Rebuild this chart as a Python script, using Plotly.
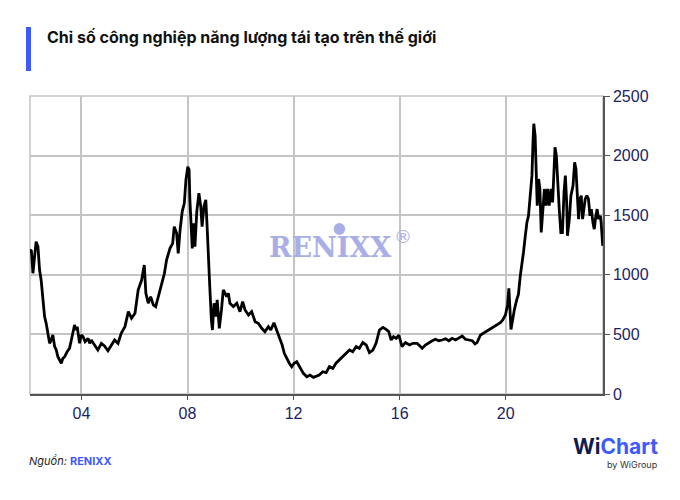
import plotly.graph_objects as go

# ---- data ----
years = [
    2002.06, 2002.11, 2002.17, 2002.23, 2002.29, 2002.36, 2002.42, 2002.48, 2002.55, 2002.61,
    2002.67, 2002.74, 2002.80, 2002.86, 2002.92, 2002.99, 2003.05, 2003.11, 2003.18, 2003.24,
    2003.30, 2003.37, 2003.46, 2003.55, 2003.62, 2003.68, 2003.74, 2003.79, 2003.84, 2003.93,
    2003.99, 2004.06, 2004.14, 2004.25, 2004.31, 2004.37, 2004.50, 2004.62, 2004.75, 2004.87,
    2005.00, 2005.12, 2005.25, 2005.38, 2005.50, 2005.64, 2005.77, 2005.89, 2006.02, 2006.14,
    2006.27, 2006.37, 2006.43, 2006.52, 2006.61, 2006.71, 2006.80, 2006.90, 2007.03, 2007.13,
    2007.21, 2007.34, 2007.44, 2007.50, 2007.59, 2007.65, 2007.72, 2007.80, 2007.88, 2007.94,
    2008.01, 2008.06, 2008.09, 2008.13, 2008.18, 2008.23, 2008.28, 2008.35, 2008.43, 2008.50,
    2008.55, 2008.62, 2008.69, 2008.74, 2008.79, 2008.84, 2008.90, 2008.94, 2009.00, 2009.06,
    2009.12, 2009.20, 2009.28, 2009.35, 2009.48, 2009.54, 2009.60, 2009.73, 2009.86, 2009.98,
    2010.08, 2010.17, 2010.30, 2010.42, 2010.55, 2010.67, 2010.80, 2010.92, 2011.05, 2011.14,
    2011.26, 2011.37, 2011.47, 2011.57, 2011.65, 2011.74, 2011.84, 2011.93, 2012.02, 2012.12,
    2012.25, 2012.37, 2012.50, 2012.62, 2012.75, 2012.88, 2012.97, 2013.10, 2013.23, 2013.35,
    2013.48, 2013.60, 2013.73, 2013.86, 2013.98, 2014.11, 2014.23, 2014.36, 2014.48, 2014.61,
    2014.74, 2014.86, 2014.99, 2015.11, 2015.24, 2015.37, 2015.49, 2015.59, 2015.68, 2015.77,
    2015.87, 2015.97, 2016.09, 2016.22, 2016.37, 2016.50, 2016.66, 2016.85, 2016.97, 2017.10,
    2017.23, 2017.35, 2017.48, 2017.60, 2017.73, 2017.86, 2017.98, 2018.11, 2018.23, 2018.36,
    2018.48, 2018.61, 2018.74, 2018.84, 2018.92, 2019.05, 2019.18, 2019.30, 2019.43, 2019.55,
    2019.68, 2019.80, 2019.89, 2019.99, 2020.07, 2020.12, 2020.20, 2020.26, 2020.33, 2020.42,
    2020.48, 2020.55, 2020.61, 2020.67, 2020.74, 2020.80, 2020.86, 2020.92, 2020.99, 2021.03,
    2021.06, 2021.11, 2021.15, 2021.19, 2021.24, 2021.29, 2021.34, 2021.39, 2021.46, 2021.52,
    2021.58, 2021.64, 2021.71, 2021.77, 2021.82, 2021.86, 2021.91, 2021.96, 2022.02, 2022.08,
    2022.14, 2022.20, 2022.25, 2022.30, 2022.33, 2022.40, 2022.46, 2022.54, 2022.60, 2022.65,
    2022.70, 2022.75, 2022.80, 2022.85, 2022.90, 2022.95, 2023.00, 2023.06, 2023.12, 2023.18,
    2023.23, 2023.29, 2023.34, 2023.40, 2023.45, 2023.50, 2023.57, 2023.60, 2023.64, 2023.66,
]
renixx_index = [
    1200, 1208, 1013, 1152, 1278, 1236, 1040, 956, 789, 649,
    593, 509, 425, 453, 495, 397, 369, 313, 285, 258,
    299, 313, 355, 383, 453, 509, 579, 537, 565, 425,
    495, 481, 439, 467, 425, 453, 411, 369, 425, 403,
    363, 403, 453, 425, 509, 565, 691, 635, 677, 873,
    956, 1082, 845, 761, 817, 747, 733, 817, 929, 1013,
    1124, 1222, 1264, 1404, 1348, 1180, 1376, 1530, 1600, 1795,
    1907, 1880, 1628, 1460, 1222, 1432, 1236, 1530, 1684, 1572,
    1404, 1572, 1628, 1404, 1096, 900, 621, 537, 761, 649,
    789, 551, 705, 873, 817, 845, 761, 733, 761, 691,
    775, 705, 663, 691, 607, 593, 551, 523, 565, 537,
    598, 537, 467, 411, 341, 299, 258, 229, 258, 271,
    215, 173, 145, 159, 140, 152, 159, 187, 179, 229,
    215, 258, 285, 313, 341, 369, 355, 397, 383, 431,
    411, 347, 369, 425, 537, 559, 542, 523, 453, 481,
    467, 495, 397, 431, 411, 425, 425, 383, 411, 431,
    447, 459, 447, 453, 464, 447, 467, 453, 467, 487,
    459, 453, 447, 420, 431, 495, 514, 531, 548, 565,
    587, 598, 621, 663, 747, 887, 542, 626, 710, 794,
    836, 991, 1075, 1187, 1327, 1439, 1495, 1636, 1832, 2112,
    2267, 2168, 1832, 1580, 1804, 1720, 1355, 1551, 1720, 1580,
    1720, 1580, 1720, 1608, 1832, 2070, 2000, 1748, 1551, 1355,
    1355, 1692, 1832, 1608, 1327, 1467, 1664, 1748, 1944, 1888,
    1636, 1467, 1636, 1664, 1467, 1580, 1636, 1664, 1636, 1495,
    1551, 1439, 1383, 1495, 1551, 1467, 1495, 1439, 1327, 1243,
]
x_tick_values = [2004, 2008, 2012, 2016, 2020]
x_tick_labels = ["04", "08", "12", "16", "20"]
y_tick_values = [0, 500, 1000, 1500, 2000, 2500]

title_text = "Chỉ số công nghiệp năng lượng tái tạo trên thế giới"
source_label = "Nguồn:"
source_name = "RENIXX"

# ---- layout geometry (pixels of the 680x500 page) ----
W, H = 680, 500
L, R, T, B = 30, 602.7, 96, 394
PW, PH = R - L, B - T


def px(x):
    return (x - L) / PW


def py(y):
    return (B - y) / PH


GRID = "#c4c4c4"
AXIS = "#555555"
TICKFONT = dict(family="Liberation Sans, Arial, sans-serif", size=16, color="#1b2463")
BLUE = "#3d5afe"
WM = "#a9afe6"

fig = go.Figure()
fig.add_trace(go.Scatter(
    x=years, y=renixx_index, mode="lines",
    line=dict(color="#000000", width=2.8),
    hoverinfo="skip", showlegend=False,
))

fig.update_layout(
    width=W, height=H,
    margin=dict(l=L, r=W - R, t=T, b=H - B, pad=0),
    paper_bgcolor="white", plot_bgcolor="white",
    xaxis=dict(
        range=[2002.06, 2023.67], tickvals=x_tick_values, ticktext=x_tick_labels,
        showgrid=True, gridcolor=GRID, gridwidth=1.5,
        showline=True, linecolor=AXIS, linewidth=1.5,
        ticks="outside", ticklen=4, tickcolor=AXIS, tickwidth=1,
        tickfont=TICKFONT, zeroline=False, fixedrange=True,
    ),
    yaxis=dict(
        side="right", range=[0, 2500], tickvals=y_tick_values,
        showgrid=True, gridcolor=GRID, gridwidth=1.5,
        showline=True, linecolor=AXIS, linewidth=1.5,
        ticks="outside", ticklen=5, tickcolor=AXIS, tickwidth=1,
        tickfont=TICKFONT, zeroline=False, fixedrange=True,
    ),
    shapes=[
        dict(type="rect", xref="x domain", yref="y domain", x0=0, x1=1, y0=0, y1=1,
             line=dict(color=GRID, width=1.5), layer="below"),
        dict(type="rect", xref="paper", yref="paper", x0=px(26), x1=px(31),
             y0=py(71), y1=py(27), fillcolor=BLUE, line=dict(width=0)),
        dict(type="circle", xref="paper", yref="paper", x0=px(333.5), x1=px(345),
             y0=py(235), y1=py(223), fillcolor=WM, line=dict(width=0), layer="below"),
    ],
    annotations=[
        dict(xref="paper", yref="paper", x=px(45), y=py(37), xanchor="left", yanchor="middle",
             text="<b>" + title_text + "</b>", showarrow=False,
             font=dict(family="Inter, Roboto, sans-serif", size=16, color="#111111")),
        dict(xref="paper", yref="paper", x=px(330), y=py(248), xanchor="center", yanchor="middle",
             text="<b>RENIXX</b>", showarrow=False,
             font=dict(family="DejaVu Serif, serif", size=27, color=WM)),
        dict(xref="paper", yref="paper", x=px(403), y=py(236), xanchor="center", yanchor="middle",
             text="®", showarrow=False,
             font=dict(family="DejaVu Sans, sans-serif", size=18, color=WM)),
        dict(xref="paper", yref="paper", x=px(27), y=py(461), xanchor="left", yanchor="middle",
             text="<i>" + source_label + "</i> <span style='color:" + BLUE + "'><b>" + source_name + "</b></span>",
             showarrow=False,
             font=dict(family="Inter, Roboto, sans-serif", size=11, color="#222222")),
        dict(xref="paper", yref="paper", x=px(660), y=py(446), xanchor="right", yanchor="middle",
             text="<b><span style='color:#101c4e'>Wi</span><span style='color:" + BLUE + "'>Chart</span></b>",
             showarrow=False,
             font=dict(family="Inter, Roboto, sans-serif", size=21)),
        dict(xref="paper", yref="paper", x=px(660), y=py(464), xanchor="right", yanchor="middle",
             text="by WiGroup", showarrow=False,
             font=dict(family="Inter, Roboto, sans-serif", size=9, color="#333333")),
    ],
)

fig.write_html("out.html", config={"displayModeBar": False},
               post_script="document.body.style.margin='0';document.body.style.padding='0';")
